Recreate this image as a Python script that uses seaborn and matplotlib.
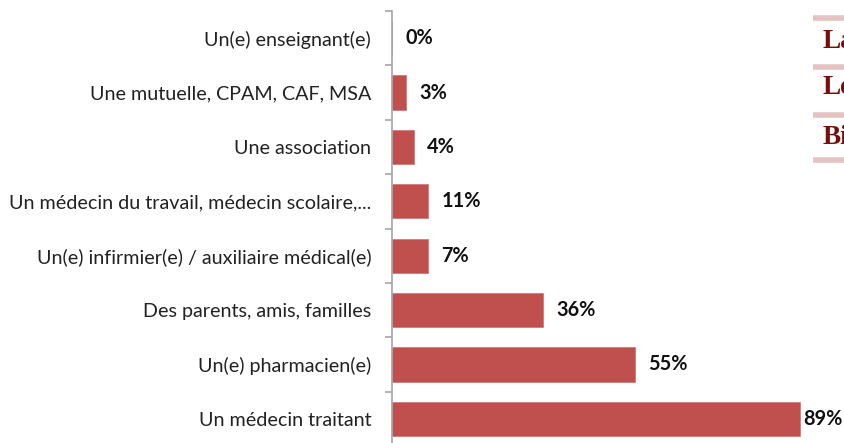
import matplotlib
matplotlib.use("Agg")
import matplotlib.pyplot as plt
import numpy as np
import seaborn as sns
from matplotlib.lines import Line2D

# Catégories de haut en bas
categories = ["Un(e) enseignant(e)", "Une mutuelle, CPAM, CAF, MSA", "Une association",
              "Un médecin du travail, médecin scolaire,...",
              "Un(e) infirmier(e) / auxiliaire médical(e)",
              "Des parents, amis, familles", "Un(e) pharmacien(e)", "Un médecin traitant"]
# Longueurs des barres (en %)
bar_values = [0, 3, 4.8, 7.9, 7.9, 33, 53, 89]
# Étiquettes affichées
value_labels = ["0%", "3%", "4%", "11%", "7%", "36%", "55%", "89%"]
# Texte coupé à droite (tableau voisin)
side_words = ["Le", "La", "Le", "Bi"]

BAR_COLOR = "#C0504D"
AXIS_GRAY = "#A6A6A6"

sns.set_theme(style="white")
plt.rcParams["font.family"] = ["Lato", "DejaVu Sans"]

fig = plt.figure(figsize=(8.45, 4.43), dpi=100)
ax = fig.add_axes([392 / 845, -3 / 443, 458 / 845, 435 / 443])

sns.barplot(x=bar_values, y=categories, orient="h", color=BAR_COLOR, saturation=1,
            width=0.63, edgecolor="#CF7B79", linewidth=0.6, ax=ax)
ax.set_xlim(0, 100)
ax.set_ylim(len(categories) - 0.5, -0.5)

for i, (v, lab) in enumerate(zip(bar_values, value_labels)):
    pad = 2.5 if v == max(bar_values) else 9.5
    ax.annotate(lab, (v, i), xytext=(pad, 0), textcoords="offset points",
                va="center", ha="left", fontsize=14.3, fontweight="bold",
                color="#111111")

# Axe vertical gris, graduations entre les catégories
for s in ["top", "right", "bottom"]:
    ax.spines[s].set_visible(False)
ax.spines["left"].set_color(AXIS_GRAY)
ax.spines["left"].set_linewidth(1.2)
ax.set_xticks([])
ax.set_yticks(np.arange(-0.5, len(categories), 1), minor=True)
ax.tick_params(axis="y", which="major", length=0, pad=15, labelsize=14.2,
               labelcolor="#222222")
ax.tick_params(axis="y", which="minor", length=5, width=1.2, color=AXIS_GRAY,
               direction="out", left=True)
ax.set_xlabel("")
ax.set_ylabel("")

# Tableau voisin coupé sur le bord droit
text_y = [450, 402, 355, 306]
line_y = [425, 376, 328, 283]
for w, ty in zip(side_words, text_y):
    fig.text(823 / 845, ty / 443, w, ha="left", va="center", fontsize=19.5,
             fontweight="bold", color="#7A0C0C", family="Liberation Serif")
for ly in line_y:
    fig.add_artist(Line2D([813 / 845, 1.0], [ly / 443, ly / 443], color="#E3C3C4",
                          linewidth=4, solid_capstyle="butt",
                          transform=fig.transFigure))

fig.savefig("out.png", dpi=100)
